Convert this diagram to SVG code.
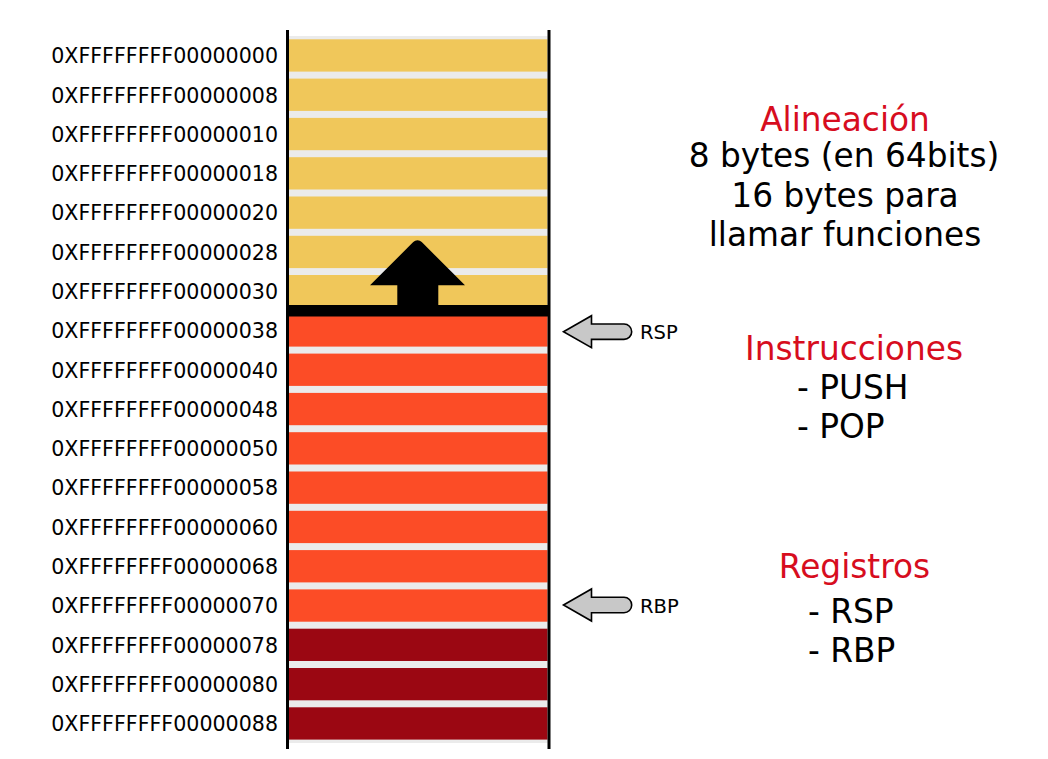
<svg xmlns="http://www.w3.org/2000/svg" width="1048" height="759" viewBox="0 0 1048 759">
<style>
.addr{font-family:"DejaVu Sans",sans-serif;font-size:20.6px;fill:#000;text-anchor:end}
.y{fill:#f0c75a}
.o{fill:#fc4c26}
.r{fill:#9b0712}
.h{font-family:"DejaVu Sans",sans-serif;font-size:32.8px;fill:#d70d1e;text-anchor:middle}
.t{font-family:"DejaVu Sans",sans-serif;font-size:32.8px;fill:#000}
.tm{text-anchor:middle}
.ptr{fill:#c8c8c8;stroke:#000;stroke-width:1.6;stroke-linejoin:miter}
.pl{font-family:"DejaVu Sans",sans-serif;font-size:19.5px;fill:#000}
</style>
<defs>
<path id="ptr" d="M0,0 L28,-16 L28,-7.7 L60.5,-7.7 A7.7,7.7 0 0 1 60.5,7.7 L28,7.7 L28,16 Z"/>
</defs>
<rect width="1048" height="759" fill="#fff"/>
<g id="stack">
<rect x="289" y="36" width="258.5" height="707" fill="#ebebeb"/>
<rect class="y" x="289" y="39.3" width="258.5" height="32.3"/>
<rect class="y" x="289" y="78.6" width="258.5" height="32.3"/>
<rect class="y" x="289" y="117.9" width="258.5" height="32.3"/>
<rect class="y" x="289" y="157.2" width="258.5" height="32.3"/>
<rect class="y" x="289" y="196.5" width="258.5" height="32.3"/>
<rect class="y" x="289" y="235.8" width="258.5" height="32.3"/>
<rect class="y" x="289" y="275.0" width="258.5" height="32.3"/>
<rect class="o" x="289" y="314.3" width="258.5" height="32.3"/>
<rect class="o" x="289" y="353.6" width="258.5" height="32.3"/>
<rect class="o" x="289" y="392.9" width="258.5" height="32.3"/>
<rect class="o" x="289" y="432.2" width="258.5" height="32.3"/>
<rect class="o" x="289" y="471.5" width="258.5" height="32.3"/>
<rect class="o" x="289" y="510.8" width="258.5" height="32.3"/>
<rect class="o" x="289" y="550.1" width="258.5" height="32.3"/>
<rect class="o" x="289" y="589.4" width="258.5" height="32.3"/>
<rect class="r" x="289" y="628.7" width="258.5" height="32.3"/>
<rect class="r" x="289" y="668.0" width="258.5" height="32.3"/>
<rect class="r" x="289" y="707.3" width="258.5" height="32.3"/>
<rect x="287" y="305" width="262" height="11.5" fill="#000"/>
<rect x="286" y="30" width="3" height="719" fill="#000"/>
<rect x="547.5" y="30" width="3" height="719" fill="#000"/>
<path d="M370,285.3 L413.26,242.06 A6,6 0 0 1 421.74,242.06 L465,285.3 L438.3,285.3 L438.3,306 L397.3,306 L397.3,285.3 Z" fill="#000"/>
</g>
<g id="addresses">
<text class="addr" x="278" y="63.2">0XFFFFFFFF00000000</text>
<text class="addr" x="278" y="102.5">0XFFFFFFFF00000008</text>
<text class="addr" x="278" y="141.8">0XFFFFFFFF00000010</text>
<text class="addr" x="278" y="181.1">0XFFFFFFFF00000018</text>
<text class="addr" x="278" y="220.4">0XFFFFFFFF00000020</text>
<text class="addr" x="278" y="259.7">0XFFFFFFFF00000028</text>
<text class="addr" x="278" y="298.9">0XFFFFFFFF00000030</text>
<text class="addr" x="278" y="338.2">0XFFFFFFFF00000038</text>
<text class="addr" x="278" y="377.5">0XFFFFFFFF00000040</text>
<text class="addr" x="278" y="416.8">0XFFFFFFFF00000048</text>
<text class="addr" x="278" y="456.1">0XFFFFFFFF00000050</text>
<text class="addr" x="278" y="495.4">0XFFFFFFFF00000058</text>
<text class="addr" x="278" y="534.7">0XFFFFFFFF00000060</text>
<text class="addr" x="278" y="574.0">0XFFFFFFFF00000068</text>
<text class="addr" x="278" y="613.3">0XFFFFFFFF00000070</text>
<text class="addr" x="278" y="652.6">0XFFFFFFFF00000078</text>
<text class="addr" x="278" y="691.9">0XFFFFFFFF00000080</text>
<text class="addr" x="278" y="731.2">0XFFFFFFFF00000088</text>
</g>
<g id="connectors">
<use href="#ptr" class="ptr" transform="translate(563.5,331.7)"/>
<use href="#ptr" class="ptr" transform="translate(563.5,605)"/>
</g>
<g id="rsp-label"><text class="pl" x="640" y="339">RSP</text></g>
<g id="rbp-label"><text class="pl" x="640" y="613.3">RBP</text></g>
<g id="alineacion">
<text class="h" x="845" y="131">Alineación</text>
<text class="t tm" x="844" y="167">8 bytes (en 64bits)</text>
<text class="t tm" x="845" y="206.7">16 bytes para</text>
<text class="t tm" x="845" y="245.7">llamar funciones</text>
</g>
<g id="instrucciones">
<text class="h" x="854" y="360">Instrucciones</text>
<text class="t" x="797" y="399">- PUSH</text>
<text class="t" x="797" y="438.3">- POP</text>
</g>
<g id="registros">
<text class="h" x="854.5" y="577.7">Registros</text>
<text class="t" x="808" y="623.3">- RSP</text>
<text class="t" x="808" y="662.3">- RBP</text>
</g>
</svg>
